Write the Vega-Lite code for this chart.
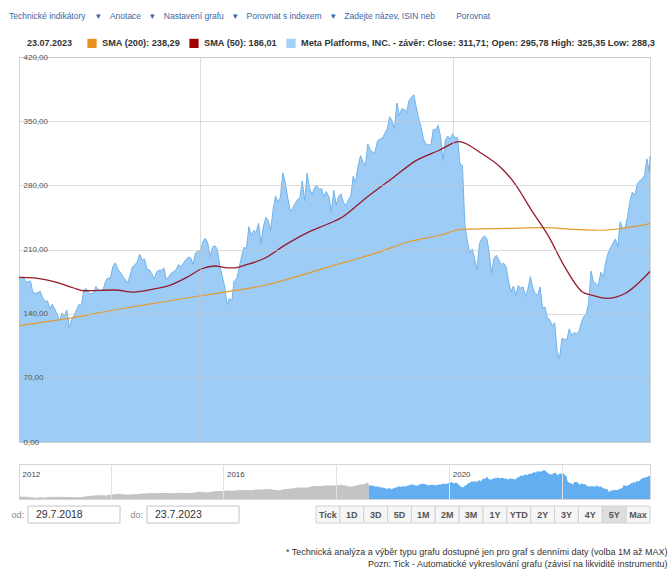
{
"$schema": "https://vega.github.io/schema/vega-lite/v6.json",
"background": "white",
"padding": {"left": 9, "top": 11, "right": 0, "bottom": 0},
"config": {"font": "Liberation Sans", "view": {"stroke": null}},
"title": {"text": "Technické indikátory\u2003 ▾\u2003Anotace\u2003\u200a▾\u2003Nastavení grafu\u2003\u200a▾\u2003Porovnat s indexem\u2003\u200a▾\u2003Zadejte název, ISIN neb\u2003\u2003\u2002Porovnat", "anchor": "start", "frame": "group", "fontSize": 8.5, "fontWeight": "normal", "color": "#3a67a8", "offset": 18, "dx": -10},
"bounds": "flush",
"spacing": 22,
"datasets": {
"price": [
{"d":"2018-07-29","v":178},{"d":"2018-08-03","v":177.78},{"d":"2018-08-10","v":180.26},{"d":"2018-08-17","v":174.70},{"d":"2018-08-24","v":174.65},{"d":"2018-08-31","v":175.73},{"d":"2018-09-07","v":163.04},{"d":"2018-09-14","v":162.32},{"d":"2018-09-21","v":162.93},{"d":"2018-09-28","v":164.46},{"d":"2018-10-05","v":157.33},{"d":"2018-10-12","v":153.35},{"d":"2018-10-19","v":154.05},{"d":"2018-10-26","v":145.37},{"d":"2018-11-02","v":150.35},{"d":"2018-11-09","v":144.96},{"d":"2018-11-16","v":139.53},{"d":"2018-11-23","v":131.73},{"d":"2018-11-30","v":140.61},{"d":"2018-12-07","v":137.42},{"d":"2018-12-14","v":144.06},{"d":"2018-12-21","v":124.95},{"d":"2018-12-28","v":133.20},
{"d":"2019-01-04","v":138.05},{"d":"2019-01-11","v":144.20},{"d":"2019-01-18","v":150.04},{"d":"2019-01-25","v":149.01},{"d":"2019-02-01","v":165.71},{"d":"2019-02-08","v":167.33},{"d":"2019-02-15","v":162.50},{"d":"2019-02-22","v":161.89},{"d":"2019-03-01","v":162.28},{"d":"2019-03-08","v":169.60},{"d":"2019-03-15","v":165.98},{"d":"2019-03-22","v":164.34},{"d":"2019-03-29","v":166.69},{"d":"2019-04-05","v":175.72},{"d":"2019-04-12","v":179.10},{"d":"2019-04-18","v":178.28},{"d":"2019-04-26","v":191.49},{"d":"2019-05-03","v":195.47},{"d":"2019-05-10","v":188.34},{"d":"2019-05-17","v":185.30},{"d":"2019-05-24","v":180.87},{"d":"2019-05-31","v":177.47},{"d":"2019-06-07","v":173.35},{"d":"2019-06-14","v":181.33},{"d":"2019-06-21","v":191.14},{"d":"2019-06-28","v":193.00},{"d":"2019-07-05","v":196.40},{"d":"2019-07-12","v":204.87},{"d":"2019-07-19","v":198.36},{"d":"2019-07-26","v":199.75},{"d":"2019-08-02","v":189.02},{"d":"2019-08-09","v":187.85},{"d":"2019-08-16","v":183.70},{"d":"2019-08-23","v":177.75},{"d":"2019-08-30","v":185.67},{"d":"2019-09-06","v":187.49},{"d":"2019-09-13","v":187.19},{"d":"2019-09-20","v":189.93},{"d":"2019-09-27","v":177.10},{"d":"2019-10-04","v":180.45},{"d":"2019-10-11","v":184.19},{"d":"2019-10-18","v":185.85},{"d":"2019-10-25","v":187.89},{"d":"2019-11-01","v":193.62},{"d":"2019-11-08","v":190.84},{"d":"2019-11-15","v":195.10},{"d":"2019-11-22","v":198.82},{"d":"2019-11-29","v":201.64},{"d":"2019-12-06","v":201.05},{"d":"2019-12-13","v":194.11},{"d":"2019-12-20","v":206.30},{"d":"2019-12-27","v":208.10},
{"d":"2020-01-03","v":208.67},{"d":"2020-01-10","v":218.30},{"d":"2020-01-17","v":222.14},{"d":"2020-01-24","v":217.94},{"d":"2020-01-31","v":201.91},{"d":"2020-02-07","v":212.33},{"d":"2020-02-14","v":214.18},{"d":"2020-02-21","v":210.18},{"d":"2020-02-28","v":192.47},{"d":"2020-03-06","v":181.09},{"d":"2020-03-13","v":170.28},{"d":"2020-03-20","v":149.73},{"d":"2020-03-27","v":156.79},{"d":"2020-04-03","v":154.18},{"d":"2020-04-09","v":175.19},{"d":"2020-04-17","v":178.24},{"d":"2020-04-24","v":190.07},{"d":"2020-05-01","v":202.27},{"d":"2020-05-08","v":212.35},{"d":"2020-05-15","v":210.88},{"d":"2020-05-22","v":234.91},{"d":"2020-05-29","v":225.09},{"d":"2020-06-05","v":230.77},{"d":"2020-06-12","v":228.58},{"d":"2020-06-19","v":238.79},{"d":"2020-06-26","v":216.08},{"d":"2020-07-02","v":233.42},{"d":"2020-07-10","v":245.07},{"d":"2020-07-17","v":242.03},{"d":"2020-07-24","v":230.71},{"d":"2020-07-31","v":253.67},{"d":"2020-08-07","v":268.44},{"d":"2020-08-14","v":261.24},{"d":"2020-08-21","v":267.01},{"d":"2020-08-28","v":293.66},{"d":"2020-09-04","v":282.73},{"d":"2020-09-11","v":266.61},{"d":"2020-09-18","v":252.53},{"d":"2020-09-25","v":254.82},{"d":"2020-10-02","v":259.94},{"d":"2020-10-09","v":264.45},{"d":"2020-10-16","v":265.93},{"d":"2020-10-23","v":284.79},{"d":"2020-10-30","v":263.11},{"d":"2020-11-06","v":293.41},{"d":"2020-11-13","v":276.95},{"d":"2020-11-20","v":269.70},{"d":"2020-11-27","v":276.97},{"d":"2020-12-04","v":279.70},{"d":"2020-12-11","v":275.55},{"d":"2020-12-18","v":276.40},{"d":"2020-12-24","v":267.40},{"d":"2020-12-31","v":273.16},
{"d":"2021-01-08","v":267.57},{"d":"2021-01-15","v":251.36},{"d":"2021-01-22","v":274.50},{"d":"2021-01-29","v":258.33},{"d":"2021-02-05","v":268.10},{"d":"2021-02-12","v":270.50},{"d":"2021-02-19","v":261.56},{"d":"2021-02-26","v":257.62},{"d":"2021-03-05","v":264.28},{"d":"2021-03-12","v":268.40},{"d":"2021-03-19","v":290.11},{"d":"2021-03-26","v":283.02},{"d":"2021-04-01","v":298.66},{"d":"2021-04-09","v":312.46},{"d":"2021-04-16","v":306.18},{"d":"2021-04-23","v":301.13},{"d":"2021-04-30","v":325.08},{"d":"2021-05-07","v":319.08},{"d":"2021-05-14","v":315.94},{"d":"2021-05-21","v":316.23},{"d":"2021-05-28","v":328.73},{"d":"2021-06-04","v":330.35},{"d":"2021-06-11","v":331.26},{"d":"2021-06-18","v":336.51},{"d":"2021-06-25","v":341.37},{"d":"2021-07-02","v":354.70},{"d":"2021-07-09","v":350.42},{"d":"2021-07-16","v":341.66},{"d":"2021-07-23","v":369.79},{"d":"2021-07-30","v":356.30},{"d":"2021-08-06","v":363.51},{"d":"2021-08-13","v":362.92},{"d":"2021-08-20","v":359.37},{"d":"2021-08-27","v":372.63},{"d":"2021-09-03","v":376.26},{"d":"2021-09-10","v":378.69},{"d":"2021-09-17","v":364.72},{"d":"2021-09-24","v":352.96},{"d":"2021-10-01","v":343.01},{"d":"2021-10-08","v":330.05},{"d":"2021-10-15","v":324.76},{"d":"2021-10-22","v":324.61},{"d":"2021-10-29","v":323.57},{"d":"2021-11-05","v":341.13},{"d":"2021-11-12","v":340.89},{"d":"2021-11-19","v":345.30},{"d":"2021-11-26","v":333.12},{"d":"2021-12-03","v":306.84},{"d":"2021-12-10","v":329.75},{"d":"2021-12-17","v":333.79},{"d":"2021-12-23","v":330.45},{"d":"2021-12-31","v":336.35},
{"d":"2022-01-07","v":331.79},{"d":"2022-01-14","v":331.90},{"d":"2022-01-21","v":303.17},{"d":"2022-01-28","v":301.71},{"d":"2022-02-04","v":237.09},{"d":"2022-02-11","v":219.55},{"d":"2022-02-18","v":206.16},{"d":"2022-02-25","v":210.48},{"d":"2022-03-04","v":200.06},{"d":"2022-03-11","v":187.61},{"d":"2022-03-18","v":216.49},{"d":"2022-03-25","v":221.82},{"d":"2022-04-01","v":224.85},{"d":"2022-04-08","v":222.33},{"d":"2022-04-14","v":210.18},{"d":"2022-04-22","v":184.11},{"d":"2022-04-29","v":200.47},{"d":"2022-05-06","v":203.77},{"d":"2022-05-13","v":198.62},{"d":"2022-05-20","v":193.54},{"d":"2022-05-27","v":195.13},{"d":"2022-06-03","v":190.78},{"d":"2022-06-10","v":175.57},{"d":"2022-06-17","v":163.74},{"d":"2022-06-24","v":170.16},{"d":"2022-07-01","v":160.03},{"d":"2022-07-08","v":170.58},{"d":"2022-07-15","v":167.66},{"d":"2022-07-22","v":169.27},{"d":"2022-07-29","v":159.10},{"d":"2022-08-05","v":167.11},{"d":"2022-08-12","v":180.50},{"d":"2022-08-19","v":167.96},{"d":"2022-08-26","v":161.78},{"d":"2022-09-02","v":160.32},{"d":"2022-09-09","v":169.15},{"d":"2022-09-16","v":146.29},{"d":"2022-09-23","v":147.27},{"d":"2022-09-30","v":135.68},{"d":"2022-10-07","v":133.45},{"d":"2022-10-14","v":126.76},{"d":"2022-10-21","v":130.01},{"d":"2022-10-28","v":99.20},{"d":"2022-11-04","v":90.79},{"d":"2022-11-11","v":113.02},{"d":"2022-11-18","v":112.05},{"d":"2022-11-25","v":111.41},{"d":"2022-12-02","v":123.49},{"d":"2022-12-09","v":115.90},{"d":"2022-12-16","v":119.43},{"d":"2022-12-23","v":118.04},{"d":"2022-12-30","v":120.34},
{"d":"2023-01-06","v":130.02},{"d":"2023-01-13","v":136.98},{"d":"2023-01-20","v":139.37},{"d":"2023-01-27","v":151.74},{"d":"2023-02-03","v":186.53},{"d":"2023-02-10","v":174.15},{"d":"2023-02-17","v":173.10},{"d":"2023-02-24","v":170.39},{"d":"2023-03-03","v":185.25},{"d":"2023-03-10","v":179.90},{"d":"2023-03-17","v":195.61},{"d":"2023-03-24","v":206.01},{"d":"2023-03-31","v":211.94},{"d":"2023-04-06","v":216.10},{"d":"2023-04-14","v":221.49},{"d":"2023-04-21","v":212.89},{"d":"2023-04-28","v":240.32},{"d":"2023-05-05","v":232.78},{"d":"2023-05-12","v":233.81},{"d":"2023-05-19","v":245.64},{"d":"2023-05-26","v":262.04},{"d":"2023-06-02","v":272.61},{"d":"2023-06-09","v":268.73},{"d":"2023-06-16","v":281.00},{"d":"2023-06-23","v":284.80},{"d":"2023-06-30","v":286.98},{"d":"2023-07-07","v":290.53},{"d":"2023-07-14","v":308.87},{"d":"2023-07-21","v":294.26},{"d":"2023-07-23","v":311.71}
],
"sma200": [
{"d":"2018-07-29","v":127},{"d":"2018-12-05","v":134},{"d":"2019-04-29","v":144},{"d":"2019-09-21","v":153},{"d":"2019-12-26","v":159},{"d":"2020-03-22","v":164},{"d":"2020-07-08","v":171},{"d":"2020-09-24","v":179},{"d":"2020-12-29","v":190},{"d":"2021-05-23","v":206},{"d":"2021-08-27","v":218.5},{"d":"2021-11-27","v":225.8},{"d":"2022-01-24","v":232},{"d":"2022-06-10","v":233},{"d":"2022-09-22","v":233.8},{"d":"2022-12-18","v":232},{"d":"2023-03-06","v":231},{"d":"2023-05-03","v":233},{"d":"2023-07-23","v":238.29}
],
"sma50": [
{"d":"2018-07-29","v":179.5},{"d":"2018-09-09","v":179},{"d":"2018-11-06","v":175},{"d":"2019-01-03","v":168},{"d":"2019-02-01","v":165},{"d":"2019-04-29","v":165.8},{"d":"2019-06-26","v":163.6},{"d":"2019-08-23","v":167},{"d":"2019-09-30","v":170},{"d":"2019-11-27","v":180},{"d":"2020-01-07","v":189},{"d":"2020-02-14","v":192},{"d":"2020-03-22","v":190},{"d":"2020-04-12","v":190},{"d":"2020-05-11","v":193},{"d":"2020-07-08","v":200.7},{"d":"2020-09-04","v":215},{"d":"2020-11-10","v":229},{"d":"2020-12-29","v":236.7},{"d":"2021-02-16","v":245.5},{"d":"2021-04-24","v":266},{"d":"2021-07-11","v":288},{"d":"2021-09-16","v":307},{"d":"2021-11-21","v":318},{"d":"2022-01-18","v":327.6},{"d":"2022-03-23","v":315},{"d":"2022-05-20","v":299},{"d":"2022-06-27","v":282.5},{"d":"2022-08-15","v":253},{"d":"2022-10-04","v":224},{"d":"2022-11-19","v":191},{"d":"2023-01-08","v":164},{"d":"2023-02-06","v":160},{"d":"2023-03-21","v":156.7},{"d":"2023-05-12","v":162},{"d":"2023-07-23","v":186.01}
],
"legend": [
{"s":"SMA (200): 238,29","d":"2023-07-23","v":238.29},
{"s":"SMA (50): 186,01","d":"2023-07-23","v":186.01},
{"s":"Meta Platforms, INC. - závěr: Close: 311,71; Open: 295,78 High: 325,35 Low: 288,3","d":"2023-07-23","v":311.71}
],
"hist": [
{"d":"2012-05-18","v":38.23},{"d":"2012-05-31","v":29.6},{"d":"2012-06-29","v":31.1},{"d":"2012-07-31","v":21.71},{"d":"2012-08-31","v":18.06},{"d":"2012-09-28","v":21.66},{"d":"2012-10-31","v":21.11},{"d":"2012-11-30","v":28.0},{"d":"2012-12-31","v":26.62},{"d":"2013-01-31","v":30.98},{"d":"2013-02-28","v":27.25},{"d":"2013-03-28","v":25.58},{"d":"2013-04-30","v":27.77},{"d":"2013-05-31","v":24.35},{"d":"2013-06-28","v":24.88},{"d":"2013-07-31","v":36.8},{"d":"2013-08-30","v":41.29},{"d":"2013-09-30","v":50.23},{"d":"2013-10-31","v":50.21},{"d":"2013-11-29","v":47.01},{"d":"2013-12-31","v":54.65},{"d":"2014-01-31","v":62.57},{"d":"2014-02-28","v":68.46},{"d":"2014-03-31","v":60.24},{"d":"2014-04-30","v":59.78},{"d":"2014-05-30","v":63.3},{"d":"2014-06-30","v":67.29},{"d":"2014-07-31","v":72.65},{"d":"2014-08-29","v":74.82},{"d":"2014-09-30","v":79.04},{"d":"2014-10-31","v":74.99},{"d":"2014-11-28","v":77.7},{"d":"2014-12-31","v":78.02},{"d":"2015-01-30","v":75.91},{"d":"2015-02-27","v":78.97},{"d":"2015-03-31","v":82.22},{"d":"2015-04-30","v":78.77},{"d":"2015-05-29","v":79.19},{"d":"2015-06-30","v":85.77},{"d":"2015-07-31","v":94.01},{"d":"2015-08-31","v":89.43},{"d":"2015-09-30","v":89.9},{"d":"2015-10-30","v":101.97},{"d":"2015-11-30","v":104.24},{"d":"2015-12-31","v":104.66},{"d":"2016-01-29","v":112.21},{"d":"2016-02-29","v":106.92},{"d":"2016-03-31","v":114.1},{"d":"2016-04-29","v":117.58},{"d":"2016-05-31","v":118.81},{"d":"2016-06-30","v":114.28},{"d":"2016-07-29","v":123.94},{"d":"2016-08-31","v":126.12},{"d":"2016-09-30","v":128.27},{"d":"2016-10-31","v":130.99},{"d":"2016-11-30","v":118.42},{"d":"2016-12-30","v":115.05},{"d":"2017-01-31","v":130.32},{"d":"2017-02-28","v":135.54},{"d":"2017-03-31","v":142.05},{"d":"2017-04-28","v":150.25},{"d":"2017-05-31","v":151.46},{"d":"2017-06-30","v":150.98},{"d":"2017-07-31","v":169.25},{"d":"2017-08-31","v":171.97},{"d":"2017-09-29","v":170.87},{"d":"2017-10-31","v":180.06},{"d":"2017-11-30","v":177.18},{"d":"2017-12-29","v":176.46},{"d":"2018-01-31","v":186.89},{"d":"2018-02-28","v":178.32},{"d":"2018-03-29","v":159.79},{"d":"2018-04-30","v":172.0},{"d":"2018-05-31","v":191.78},{"d":"2018-06-29","v":194.32},{"d":"2018-07-25","v":217.5},{"d":"2018-07-29","v":178}
],
"dates": [{"label":"od:","value":"29.7.2018"},{"label":"do:","value":"23.7.2023"}],
"buttons": [{"b":"Tick"},{"b":"1D"},{"b":"3D"},{"b":"5D"},{"b":"1M"},{"b":"2M"},{"b":"3M"},{"b":"1Y"},{"b":"YTD"},{"b":"2Y"},{"b":"3Y"},{"b":"4Y"},{"b":"5Y","active":true},{"b":"Max"}]
},
"vconcat": [
{
"width": 631, "height": 385,
"view": {"stroke": "#d6d6d6"},
"encoding": {
"x": {"field": "d", "type": "temporal", "scale": {"type": "utc", "domain": [{"year":2018,"month":7,"date":29,"utc":true},{"year":2023,"month":7,"date":23,"utc":true}]},
 "axis": {"values": [{"year":2020,"month":1,"date":1,"utc":true},{"year":2022,"month":1,"date":1,"utc":true}], "labels": false, "ticks": false, "tickSize": 0, "domain": false, "grid": true, "gridColor": "#c4c4c4", "gridOpacity": 0.6, "title": null, "zindex": 1}},
"y": {"field": "v", "type": "quantitative", "scale": {"domain": [0, 420], "nice": false},
 "axis": {"values": [0,70,140,210,280,350,420], "orient": "left", "labelAlign": "left", "labelBaseline": "middle", "labelPadding": -4, "ticks": false, "tickSize": 0, "domain": false, "grid": true, "gridColor": "#c4c4c4", "gridOpacity": 0.6, "labelFontSize": 8, "labelColor": "#555555", "title": null, "zindex": 1, "labelExpr": "replace(format(datum.value, '.2f'), '.', ',')"}}
},
"layer": [
{"data": {"name": "price"}, "mark": {"type": "area", "color": "#9dcdf6", "opacity": 1, "line": {"color": "#72b3e8", "strokeWidth": 1}}},
{"data": {"name": "sma200"}, "mark": {"type": "line", "color": "#e59a30", "strokeWidth": 1.2, "interpolate": "monotone"}},
{"data": {"name": "sma50"}, "mark": {"type": "line", "color": "#951a2a", "strokeWidth": 1.3, "interpolate": "monotone"}},
{"data": {"name": "legend"}, "mark": {"type": "square", "size": 0},
 "encoding": {"color": {"field": "s", "type": "nominal", "sort": null, "scale": {"range": ["#e8901e", "#a00000", "#a2d0f7"]},
  "legend": {"orient": "none", "legendX": 8, "legendY": -19, "direction": "horizontal", "title": "23.07.2023", "titleOrient": "left", "titleFontSize": 9, "titleFontWeight": "bold", "titleColor": "#333333", "titlePadding": 14, "labelFontSize": 9.2, "labelFontWeight": "bold", "labelColor": "#333333", "labelLimit": 600, "symbolType": "square", "symbolSize": 85, "symbolStrokeWidth": 0, "symbolOpacity": 1, "columnPadding": 8, "labelOffset": 5, "padding": 0}}}}
]
},
{
"bounds": "flush",
"spacing": 7,
"vconcat": [
{
"width": 631, "height": 35,
"view": {"stroke": "#d6d6d6"},
"encoding": {
"x": {"field": "d", "type": "temporal", "scale": {"type": "utc", "domain": [{"year":2012,"month":5,"date":18,"utc":true},{"year":2023,"month":7,"date":23,"utc":true}]},
 "axis": {"orient": "top", "values": [{"year":2012,"month":5,"date":18,"utc":true},{"year":2014,"month":1,"date":1,"utc":true},{"year":2016,"month":1,"date":1,"utc":true},{"year":2018,"month":1,"date":1,"utc":true},{"year":2020,"month":1,"date":1,"utc":true},{"year":2022,"month":1,"date":1,"utc":true}],
  "grid": true, "gridColor": "#e2e2e2", "gridOpacity": {"condition": {"test": "utcyear(datum.value) < 2013", "value": 0}, "value": 1},
  "ticks": false, "tickSize": 0, "domain": false, "title": null, "zindex": 1,
  "labelExpr": "indexof([2012, 2016, 2020], utcyear(datum.value)) >= 0 ? '' + utcyear(datum.value) : ''",
  "labelAlign": "left", "labelBaseline": "middle", "labelPadding": -10, "labelOffset": 3, "labelFontSize": 8, "labelColor": "#444444"}},
"y": {"field": "v", "type": "quantitative", "scale": {"domain": [0, 460], "nice": false}, "axis": null}
},
"layer": [
{"data": {"name": "hist"}, "mark": {"type": "area", "color": "#c4c4c4", "opacity": 1}},
{"data": {"name": "price"}, "mark": {"type": "area", "color": "#62aef0", "opacity": 1}}
]
},
{
"bounds": "flush",
"spacing": 68,
"title": {"text": ["* Technická analýza a výběr typu grafu dostupné jen pro graf s denními daty (volba 1M až MAX)", "Pozn: Tick - Automatické vykreslování grafu (závisí na likviditě instrumentu)"], "orient": "bottom", "anchor": "end", "frame": "bounds", "fontSize": 9, "fontWeight": "normal", "color": "#333333", "lineHeight": 12, "offset": 24, "dx": 17},
"hconcat": [
{
"width": 229, "height": 17,
"data": {"name": "dates"},
"encoding": {"x": {"field": "label", "type": "nominal", "sort": null, "scale": {"type": "band", "paddingInner": 0.227, "paddingOuter": 0.0756}, "axis": null}},
"layer": [
{"mark": {"type": "rect", "fill": "white", "stroke": "#c4c4c4", "strokeWidth": 1}},
{"mark": {"type": "text", "align": "right", "dx": -4, "fontSize": 9, "color": "#888888"}, "encoding": {"x": {"field": "label", "type": "nominal", "sort": null, "bandPosition": 0}, "text": {"field": "label"}}},
{"mark": {"type": "text", "align": "left", "dx": 8, "fontSize": 10.5, "color": "#333333"}, "encoding": {"x": {"field": "label", "type": "nominal", "sort": null, "bandPosition": 0}, "text": {"field": "value"}}}
]
},
{
"width": 334, "height": 17,
"data": {"name": "buttons"},
"encoding": {"x": {"field": "b", "type": "nominal", "sort": null, "scale": {"type": "band", "paddingInner": 0, "paddingOuter": 0}, "axis": null}},
"layer": [
{"mark": {"type": "rect", "stroke": "#d2d2d2", "strokeWidth": 1}, "encoding": {"fill": {"condition": {"test": "datum.active", "value": "#dedede"}, "value": "#f6f6f6"}}},
{"mark": {"type": "text", "fontSize": 9, "fontWeight": "bold", "color": "#555555"}, "encoding": {"text": {"field": "b"}}}
]
}
]
}
]
}
]
}
